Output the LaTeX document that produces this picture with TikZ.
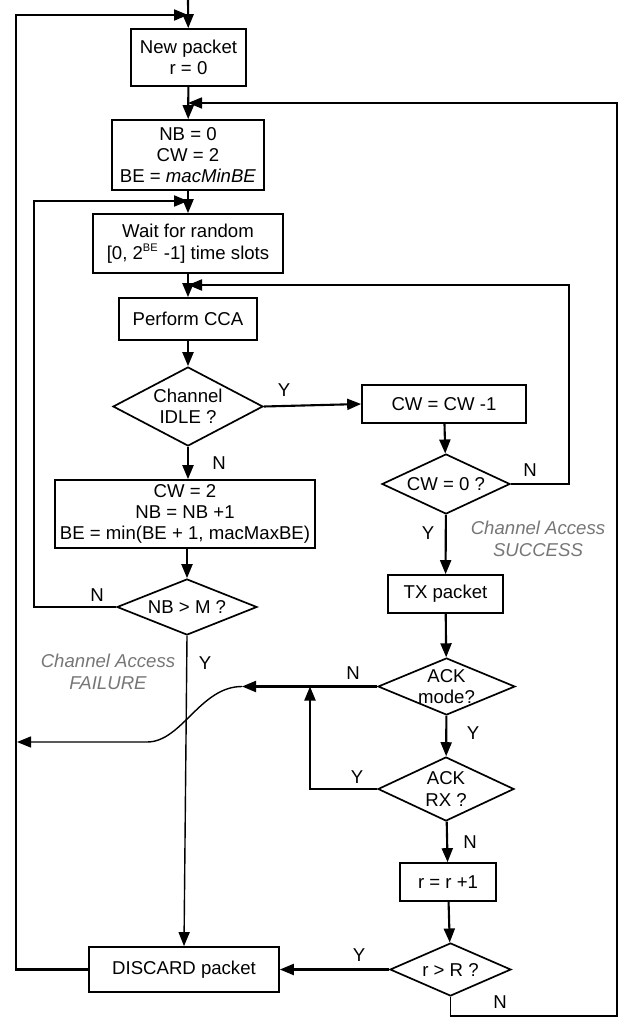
\documentclass[tikz,border=0pt]{standalone}
\usepackage{fontspec}
\setmainfont{Liberation Sans}
\usetikzlibrary{shapes.geometric, arrows.meta, positioning}
\definecolor{notegray}{RGB}{118, 118, 118}

\begin{document}
\begin{tikzpicture}[x=0.5pt, y=-0.5pt,
    box/.style={rectangle, draw, line width=0.85pt, inner sep=1pt, align=center,
                font=\fontsize{9.3}{10.7}\selectfont},
    decision/.style={diamond, draw, line width=0.85pt, inner sep=-8pt, align=center,
                font=\fontsize{9.3}{10.7}\selectfont},
    flow/.style={-{Triangle[length=7pt, width=5.5pt]}, line width=1.05pt},
    thinflow/.style={line width=0.7pt},
    lbl/.style={inner sep=0pt, font=\fontsize{9.3}{10.7}\selectfont},
    note/.style={inner sep=0pt, align=center, text=notegray, font=\itshape\fontsize{9.3}{10.7}\selectfont}]

    \useasboundingbox (0,0) rectangle (628,1022);

    % Entry and junctions on the main column
    \coordinate (start) at (188,0);
    \coordinate (jtop) at (188,15);
    \coordinate (jinit) at (188,103);
    \coordinate (jwait) at (188,201);
    \coordinate (jcca) at (188,285);

    % Start of packet
    \node[box, minimum width=57.5pt, minimum height=28.5pt] (newpkt) at (188.5,57.5) {New packet\\r = 0};

    % Initialisation
    \node[box, minimum width=76pt, minimum height=35pt] (init) at (188,155) {NB = 0\\CW = 2\\BE = \textit{macMinBE}};

    % Backoff
    \node[box, minimum width=95pt, minimum height=29.5pt] (wait) at (188,243.5) {Wait for random\\{}[0, 2\textsuperscript{\fontsize{5.5}{6}\selectfont BE} -1] time slots};

    % CCA
    \node[box, minimum width=69pt, minimum height=21pt] (cca) at (188,319) {Perform CCA};
    \node[decision, minimum width=75pt, minimum height=39.5pt] (idle) at (188,406.5) {Channel\\IDLE ?};

    % Busy channel
    \node[box, minimum width=130pt, minimum height=34pt] (backoff) at (185,514) {CW = 2\\NB = NB +1\\BE = min(BE + 1, macMaxBE)};
    \node[decision, minimum width=70pt, minimum height=28pt] (nbm) at (187,607) {NB > M ?};

    % Idle channel
    \node[box, minimum width=82pt, minimum height=19pt] (cwdec) at (444,404) {CW = CW -1};
    \node[decision, minimum width=64pt, minimum height=30pt] (cwzero) at (446,484) {CW = 0 ?};

    % Transmission
    \node[box, minimum width=57.5pt, minimum height=19pt] (txpkt) at (445.5,594) {TX packet};
    \node[decision, minimum width=68.5pt, minimum height=28.5pt] (ackmode) at (446.5,686.5) {ACK\\mode?};
    \node[decision, minimum width=68pt, minimum height=32pt] (ackrx) at (446,789) {ACK\\RX ?};

    % Retries
    \node[box, minimum width=48pt, minimum height=19pt] (rinc) at (448,882) {r = r +1};
    \node[decision, minimum width=60.5pt, minimum height=26.5pt] (rmax) at (450.5,969.5) {r > R ?};

    % Drop
    \node[box, minimum width=95pt, minimum height=22.5pt] (discard) at (184,969.5) {DISCARD packet};

    % Notes
    \node[note] (success) at (538,539) {Channel Access\\SUCCESS};
    \node[note] (failure) at (108,672) {Channel Access\\FAILURE};

    % Branch labels
    \node[lbl] (yidle) at (284,390) {Y};
    \node[lbl] (nidle) at (219,463) {N};
    \node[lbl] (nnbm) at (97,595) {N};
    \node[lbl] (ynbm) at (205,663) {Y};
    \node[lbl] (ncw) at (530,470) {N};
    \node[lbl] (ycw) at (428,533) {Y};
    \node[lbl] (nack) at (353,673) {N};
    \node[lbl] (yack) at (473,733) {Y};
    \node[lbl] (yrx) at (357,777) {Y};
    \node[lbl] (nrx) at (470,842) {N};
    \node[lbl] (yr) at (359,955) {Y};
    \node[lbl] (nr) at (500,1002) {N};

    % Free ends
    \coordinate (jack) at (242,686.5);
    \coordinate (jup) at (310,686.5);
    \coordinate (jleft) at (17,742);

    % Arrows
    \draw[flow] (start) -- (newpkt);
    \draw[flow] (newpkt) -- (init);
    \draw[flow] (init) -- (wait);
    \draw[flow] (wait) -- (cca);
    \draw[flow] (cca) -- (idle);
    \draw[flow] (idle.east) -- (cwdec.west);
    \draw[flow] (idle.south) -- (idle.south |- backoff.north);
    \draw[flow] (backoff.south -| nbm.north) -- (nbm.north);
    \draw[flow] (nbm.west) -- ++(-82,0) |- (jwait);
    \draw[flow, thinflow] (nbm.south) -- (discard.north);
    \draw[flow] (cwdec) -- (cwzero);
    \draw[flow] (cwzero.east) -- ++(58,0) |- (jcca);
    \draw[flow] (cwzero) -- (txpkt);
    \draw[flow] (txpkt) -- (ackmode);
    \draw[flow] (ackmode.west) -- (jack);
    \draw[flow, thinflow] (jack) .. controls (200,686.5) and (182,742) .. (147,742) -- (jleft);
    \draw[flow] (ackmode) -- (ackrx);
    \draw[flow] (ackrx.west) -| (jup);
    \draw[flow] (ackrx) -- (rinc);
    \draw[flow] (rinc) -- (rmax);
    \draw[flow] (rmax.west) -- (discard.east);
    \draw[flow, line width=0.85pt] (rmax.south) -- ++(0,19) -| (617,103) -- (jinit);
    \draw[flow] (discard.west) -- ++(-72,0) |- (jtop);
\end{tikzpicture}
\end{document}
